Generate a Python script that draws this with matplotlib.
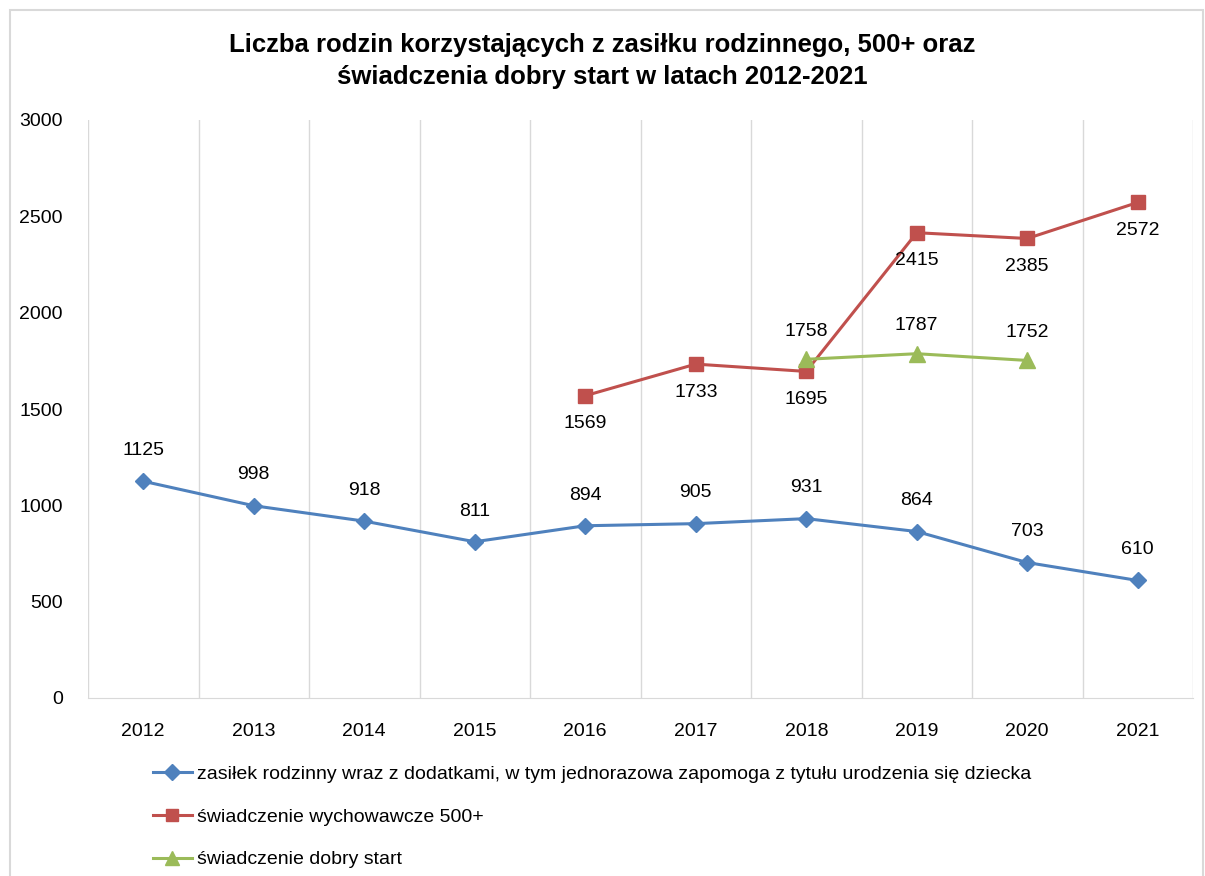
import matplotlib.pyplot as plt
from matplotlib.patches import Rectangle
from matplotlib.lines import Line2D
import numpy as np

# -------- DATA --------
years = ["2012", "2013", "2014", "2015", "2016", "2017", "2018", "2019", "2020", "2021"]
zasilek = [1125, 998, 918, 811, 894, 905, 931, 864, 703, 610]
wych_years = ["2016", "2017", "2018", "2019", "2020", "2021"]
wychowawcze = [1569, 1733, 1695, 2415, 2385, 2572]
start_years = ["2018", "2019", "2020"]
dobry_start = [1758, 1787, 1752]

labels = [
    "zasiłek rodzinny wraz z dodatkami, w tym jednorazowa zapomoga z tytułu urodzenia się dziecka",
    "świadczenie wychowawcze 500+",
    "świadczenie dobry start",
]
title = "Liczba rodzin korzystających z zasiłku rodzinnego, 500+ oraz\nświadczenia dobry start w latach 2012-2021"

BLUE = "#4f81bd"
RED = "#c0504d"
GREEN = "#9bbb59"
FONT = ["Liberation Sans Narrow", "Liberation Sans", "DejaVu Sans"]
plt.rcParams["font.family"] = FONT

fig = plt.figure(figsize=(12.05, 8.76), dpi=100)
fig.patches.append(Rectangle((10 / 1205, -0.05), 1 - 12 / 1205, 1.05 - 10 / 876,
                             transform=fig.transFigure, fill=False,
                             edgecolor="#d9d9d9", linewidth=1.5))
ax = fig.add_axes([88 / 1205, 1 - 698 / 876, 1105 / 1205, 578 / 876])

x_all = np.arange(len(years))
x_w = np.array([years.index(y) for y in wych_years])
x_s = np.array([years.index(y) for y in start_years])

ax.plot(x_all, zasilek, color=BLUE, lw=2.2, marker="D", ms=8, zorder=3)
ax.plot(x_w, wychowawcze, color=RED, lw=2.2, marker="s", ms=10, zorder=3)
ax.plot(x_s, dobry_start, color=GREEN, lw=2.2, marker="^", ms=11, zorder=4)

for xi, v in zip(x_all, zasilek):
    ax.annotate(str(v), (xi, v), xytext=(0, 16), textcoords="offset points",
                ha="center", va="bottom", fontsize=14)
for xi, v in zip(x_w, wychowawcze):
    ax.annotate(str(v), (xi, v), xytext=(0, -14), textcoords="offset points",
                ha="center", va="top", fontsize=14)
for xi, v in zip(x_s, dobry_start):
    ax.annotate(str(v), (xi, v), xytext=(0, 14), textcoords="offset points",
                ha="center", va="bottom", fontsize=14)

ax.set_xlim(-0.5, len(years) - 0.5)
ax.set_ylim(0, 3000)
ax.set_yticks(np.arange(0, 3001, 500))
ax.set_xticks(x_all)
ax.set_xticklabels(years, fontsize=14)
ax.tick_params(axis="y", labelsize=14, length=0, pad=18)
ax.tick_params(axis="x", length=0, pad=18)
ax.set_xticks(np.arange(-0.5, len(years), 1), minor=True)
ax.tick_params(axis="x", which="minor", length=0)
ax.grid(axis="x", which="minor", color="#d9d9d9", lw=1)
ax.grid(axis="x", which="major", visible=False)
for s in ["top", "right", "left"]:
    ax.spines[s].set_visible(False)
ax.spines["bottom"].set_color("#d9d9d9")

fig.text(0.5, 1 - 61 / 876, title, ha="center", va="center", fontsize=18.5,
         fontweight="bold", linespacing=1.4)

handles = [
    Line2D([], [], color=BLUE, lw=2.2, marker="D", ms=8),
    Line2D([], [], color=RED, lw=2.2, marker="s", ms=9),
    Line2D([], [], color=GREEN, lw=2.2, marker="^", ms=10),
]
fig.legend(handles, labels, loc="upper left", bbox_to_anchor=(153 / 1205, 1 - 765 / 876),
           frameon=False, fontsize=14, handlelength=2.0, handletextpad=0.25,
           labelspacing=1.3, borderaxespad=0, borderpad=0)

fig.savefig("out.png", dpi=100)
